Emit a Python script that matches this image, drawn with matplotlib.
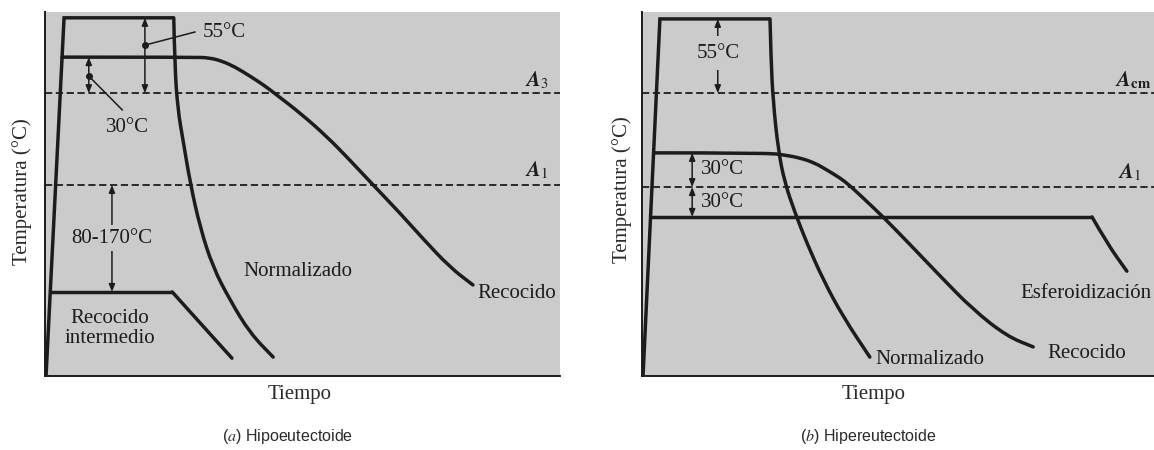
import matplotlib
matplotlib.use("Agg")
import matplotlib.pyplot as plt
from matplotlib.path import Path
from matplotlib.patches import PathPatch

plt.rcParams['font.family'] = ['Liberation Serif', 'DejaVu Serif']
plt.rcParams['mathtext.fontset'] = 'stix'

# ---------------- (a) Hipoeutectoide ----------------
# schematic time (0-100) / temperature (0-100) units
a_T_A3 = 77.7
a_T_A1 = 52.5
a_T_top = 98.4
a_T_rec = 87.6
a_T_int = 23.1

# heating ramp and hold at the top of the normalising cycle
a_heat_t = [0.2, 3.7, 25.0]
a_heat_T = [0.0, 98.4, 98.4]
# air cooling (normalizado)
a_norm_t = [25.0, 25.2, 25.8, 26.8, 28.2, 30.1, 32.6, 35.9, 39.8, 44.3]
a_norm_T = [98.4, 84.9, 73.1, 64.8, 53.0, 40.9, 29.9, 20.9, 11.8, 5.2]

# full anneal: hold then furnace cooling
a_rec_t = [3.3, 29.1, 32.0, 34.4, 36.9, 39.8, 42.7, 45.0, 49.5, 54.8, 59.2, 63.7, 68.9, 73.4, 78.6, 83.1]
a_rec_T = [87.6, 87.6, 87.4, 86.5, 84.9, 82.4, 79.7, 77.2, 72.3, 65.7, 59.3, 52.5, 44.8, 37.7, 29.9, 25.0]

# process (intermediate) anneal
a_int_t = [1.0, 24.7, 30.1, 36.3]
a_int_T = [23.1, 23.1, 14.6, 4.9]

# ---------------- (b) Hipereutectoide ----------------
b_T_Acm = 77.7
b_T_A1 = 51.9
b_T_top = 98.1
b_T_rec = 61.3
b_T_esf = 43.7

b_heat_t = [0.2, 3.5, 25.0]
b_heat_T = [0.0, 98.1, 98.1]
b_norm_t = [25.0, 25.2, 25.6, 26.6, 27.9, 29.9, 32.2, 35.4, 39.3, 44.5]
b_norm_T = [98.1, 86.8, 75.8, 62.1, 53.0, 44.8, 36.5, 26.4, 16.2, 5.2]

b_rec_t = [2.3, 24.4, 27.9, 30.9, 33.8, 36.1, 38.7, 40.6, 43.5, 47.1, 52.3, 58.2, 64.6, 71.3, 76.4]
b_rec_T = [61.3, 61.3, 60.7, 59.9, 58.5, 56.6, 54.4, 52.3, 48.5, 43.7, 36.2, 27.5, 18.3, 10.9, 8.0]

b_esf_t = [1.7, 87.9, 90.8, 94.7]
b_esf_T = [43.7, 43.7, 36.5, 28.8]

BG = '#cbcbcb'
INK = '#1c1c1c'
LW = 2.5
FS = 15

W, H = 1154, 450
fig = plt.figure(figsize=(W / 100, H / 100), dpi=100)
fig.patch.set_facecolor('white')


def box(x0, y0, x1, y1):
    return [x0 / W, (H - y1) / H, (x1 - x0) / W, (y1 - y0) / H]


def setup(ax):
    ax.set_xlim(0, 100)
    ax.set_ylim(0, 100)
    ax.set_facecolor(BG)
    for s in ('top', 'right'):
        ax.spines[s].set_visible(False)
    for s in ('left', 'bottom'):
        ax.spines[s].set_linewidth(1.4)
        ax.spines[s].set_color(INK)
    ax.set_xticks([])
    ax.set_yticks([])


def dashed(ax, T):
    ax.axhline(T, color=INK, lw=1.3, linestyle=(0, (4, 2)))


def darrow(ax, x, T0, T1):
    ax.annotate('', xy=(x, T0), xytext=(x, T1),
                arrowprops=dict(arrowstyle='<|-|>,head_length=0.45,head_width=0.18',
                                color=INK, lw=1.1, shrinkA=0, shrinkB=0))


def straight(ax, t, T):
    ax.plot(t, T, color=INK, lw=LW, solid_joinstyle='miter', solid_capstyle='butt')


def smooth(ax, t, T):
    # quadratic Bezier path: readings act as control points, joined at midpoints
    pts = list(zip(t, T))
    verts = [pts[0]]
    codes = [Path.MOVETO]
    for i in range(1, len(pts) - 1):
        mid = ((pts[i][0] + pts[i + 1][0]) / 2, (pts[i][1] + pts[i + 1][1]) / 2)
        verts += [pts[i], mid]
        codes += [Path.CURVE3, Path.CURVE3]
    verts.append(pts[-1])
    codes.append(Path.LINETO)
    ax.add_patch(PathPatch(Path(verts, codes), fill=False, edgecolor=INK, lw=LW,
                           capstyle='round', joinstyle='round'))


txt = dict(color=INK, fontsize=FS)
sub = dict(color=INK, fontsize=15, ha='center', va='center')

# ---- panel (a)
axa = fig.add_axes(box(45, 12, 560, 376))
setup(axa)
dashed(axa, a_T_A3)
dashed(axa, a_T_A1)
straight(axa, a_heat_t, a_heat_T)
smooth(axa, a_norm_t, a_norm_T)
smooth(axa, a_rec_t, a_rec_T)
straight(axa, a_int_t[:2], a_int_T[:2])
smooth(axa, a_int_t[1:], a_int_T[1:])

darrow(axa, 19.4, a_T_top, a_T_A3)
axa.plot([19.4, 29.1], [90.9, 94.5], color=INK, lw=1.1)
axa.plot(19.4, 90.9, 'o', color=INK, ms=4)
axa.text(30.7, 94.5, '55°C', ha='left', va='center', **txt)

darrow(axa, 8.5, a_T_rec, a_T_A3)
axa.plot([8.5, 15.0], [82.4, 73.1], color=INK, lw=1.1)
axa.plot(8.5, 82.4, 'o', color=INK, ms=4)
axa.text(16.1, 68.4, '30°C', ha='center', va='center', **txt)

darrow(axa, 13.0, a_T_A1, a_T_int)
axa.text(13.0, 37.9, '80-170°C', ha='center', va='center',
         bbox=dict(boxstyle='square,pad=0.15', fc=BG, ec='none'), **txt)

axa.text(12.6, 13.0, 'Recocido\nintermedio', ha='center', va='center',
         linespacing=1.1, **txt)
axa.text(49.1, 28.6, 'Normalizado', ha='center', va='center', **txt)
axa.text(84.0, 22.6, 'Recocido', ha='left', va='center', **txt)
axa.text(95.5, 81.3, r'$\boldsymbol{A}_{3}$', **sub)
axa.text(95.5, 56.6, r'$\boldsymbol{A}_{1}$', **sub)

# ---- panel (b)
axb = fig.add_axes(box(642, 12, 1154, 376))
setup(axb)
dashed(axb, b_T_Acm)
dashed(axb, b_T_A1)
straight(axb, b_heat_t, b_heat_T)
smooth(axb, b_norm_t, b_norm_T)
smooth(axb, b_rec_t, b_rec_T)
straight(axb, b_esf_t[:2], b_esf_T[:2])
smooth(axb, b_esf_t[1:], b_esf_T[1:])

darrow(axb, 14.8, b_T_top, b_T_Acm)
axb.text(14.8, 88.7, '55°C', ha='center', va='center',
         bbox=dict(boxstyle='square,pad=0.35', fc=BG, ec='none'), **txt)

darrow(axb, 9.8, b_T_rec, b_T_A1)
darrow(axb, 9.8, b_T_A1, b_T_esf)
axb.text(11.6, 56.6, '30°C', ha='left', va='center', **txt)
axb.text(11.6, 47.8, '30°C', ha='left', va='center', **txt)

axb.text(45.5, 4.4, 'Normalizado', ha='left', va='center', **txt)
axb.text(79.1, 6.3, 'Recocido', ha='left', va='center', **txt)
axb.text(86.7, 22.8, 'Esferoidización', ha='center', va='center', **txt)
axb.text(95.9, 81.3, r'$\boldsymbol{A}_{\mathbf{cm}}$', **sub)
axb.text(95.3, 56.0, r'$\boldsymbol{A}_{1}$', **sub)

# ---- axis titles and captions
lab = dict(color='#2a2a2a', fontsize=FS)
fig.text(22 / W, 1 - 192 / H, 'Temperatura (°C)', rotation=90, ha='center', va='center', **lab)
fig.text(622 / W, 1 - 190 / H, 'Temperatura (°C)', rotation=90, ha='center', va='center', **lab)
fig.text(300 / W, 1 - 394 / H, 'Tiempo', ha='center', va='center', **lab)
fig.text(874 / W, 1 - 394 / H, 'Tiempo', ha='center', va='center', **lab)
fig.text(288 / W, 1 - 437 / H, '($\\mathit{a}$) Hipoeutectoide', ha='center', va='center',
         color='#2a2a2a', fontsize=11.5, family=['Liberation Sans'])
fig.text(868 / W, 1 - 437 / H, '($\\mathit{b}$) Hipereutectoide', ha='center', va='center',
         color='#2a2a2a', fontsize=11.5, family=['Liberation Sans'])

fig.savefig('out.png', dpi=100, facecolor='white')
